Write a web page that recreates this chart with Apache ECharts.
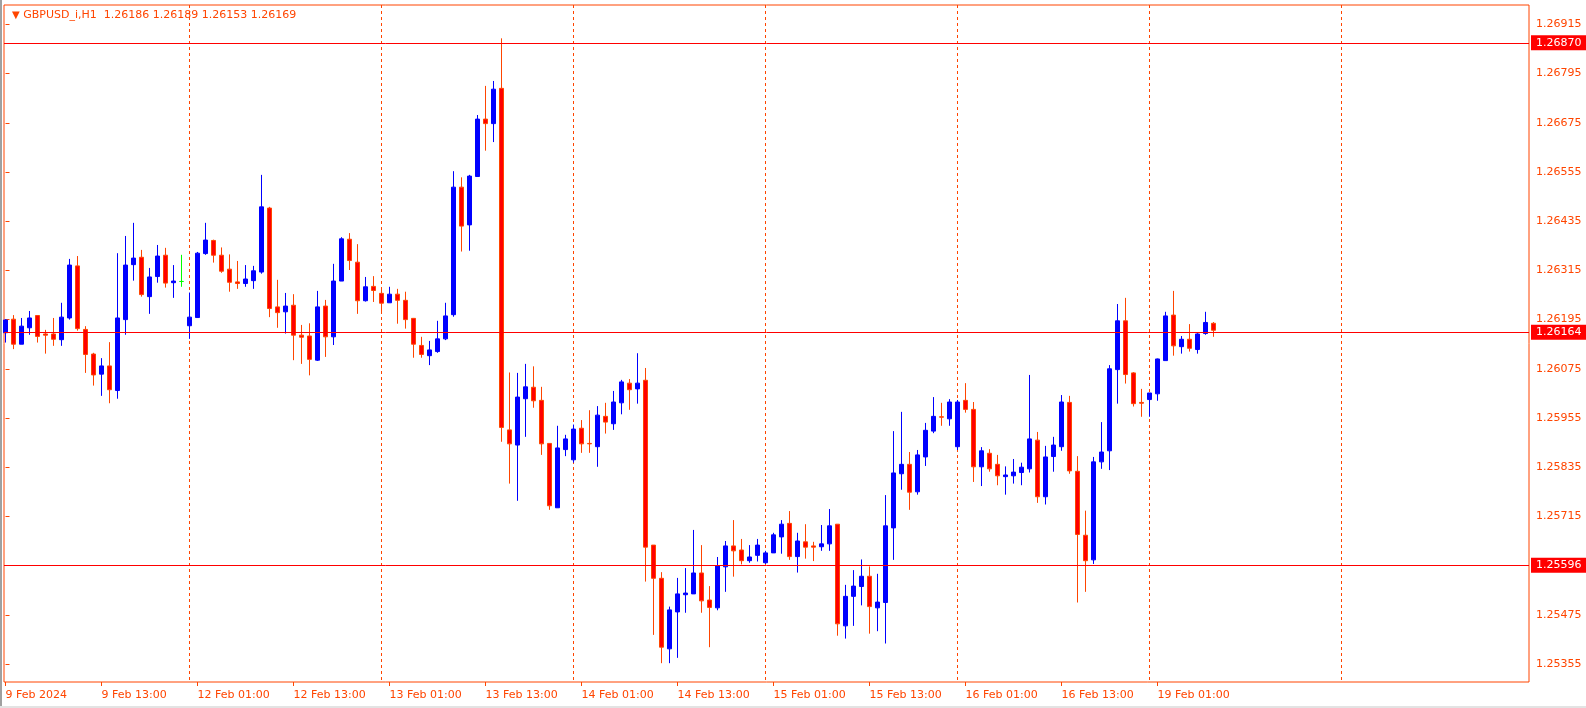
<!DOCTYPE html>
<html><head><meta charset="utf-8">
<script src="https://cdn.jsdelivr.net/npm/echarts@6/dist/echarts.min.js"></script>
<style>html,body{margin:0;padding:0;background:#fff}#c{width:1586px;height:708px}</style>
</head><body><div id="c"></div><script>
// ---- data ----
const symbolName = 'GBPUSD_i,H1';
const tradingDays = ['2024.02.09','2024.02.12','2024.02.13','2024.02.14','2024.02.15','2024.02.16','2024.02.19'];
const open = [1.26163,1.26196,1.26135,1.26175,1.26205,1.26160,1.26160,1.26146,1.26199,1.26326,
1.26171,1.26111,1.26062,1.26082,1.26022,1.26195,1.26329,1.26347,1.26251,1.26300,
1.26352,1.26285,1.26288,1.26180,1.26200,1.26356,1.26388,1.26352,1.26318,1.26287,
1.26283,1.26290,1.26311,1.26467,1.26226,1.26214,1.26230,1.26157,1.26155,1.26096,
1.26228,1.26153,1.26289,1.26391,1.26335,1.26241,1.26276,1.26259,1.26236,1.26257,
1.26242,1.26198,1.26132,1.26107,1.26117,1.26148,1.26207,1.26518,1.26426,1.26544,
1.26684,1.26673,1.26759,1.25926,1.25889,1.26002,1.26030,1.25998,1.25893,1.25736,
1.25878,1.25853,1.25930,1.25893,1.25885,1.25959,1.25941,1.25992,1.26040,1.26026,
1.26047,1.25645,1.25564,1.25392,1.25482,1.25524,1.25526,1.25577,1.25511,1.25492,
1.25592,1.25643,1.25633,1.25607,1.25620,1.25602,1.25626,1.25665,1.25698,1.25617,
1.25653,1.25643,1.25641,1.25648,1.25696,1.25448,1.25520,1.25544,1.25569,1.25492,
1.25505,1.25687,1.25819,1.25842,1.25775,1.25860,1.25923,1.25958,1.25953,1.25885,
1.25998,1.25976,1.25836,1.25869,1.25842,1.25812,1.25814,1.25822,1.25831,1.25901,
1.25763,1.25861,1.25885,1.25993,1.25825,1.25669,1.25609,1.25848,1.25875,1.26073,
1.26192,1.26065,1.25993,1.26000,1.26014,1.26095,1.26206,1.26129,1.26147,1.26122,
1.26161,1.26186];
const high = [1.26196,1.26206,1.26199,1.26216,1.26206,1.26170,1.26199,1.26236,1.26343,1.26350,
1.26179,1.26114,1.26101,1.26140,1.26357,1.26399,1.26431,1.26365,1.26321,1.26377,
1.26370,1.26328,1.26353,1.26261,1.26360,1.26431,1.26390,1.26371,1.26354,1.26338,
1.26328,1.26326,1.26548,1.26470,1.26292,1.26260,1.26257,1.26182,1.26186,1.26265,
1.26243,1.26331,1.26396,1.26406,1.26379,1.26299,1.26301,1.26271,1.26275,1.26270,
1.26263,1.26199,1.26153,1.26143,1.26192,1.26236,1.26557,1.26542,1.26548,1.26694,
1.26765,1.26777,1.26881,1.26066,1.26065,1.26087,1.26081,1.26031,1.25893,1.25936,
1.25914,1.25939,1.25950,1.25974,1.25984,1.25992,1.26021,1.26048,1.26050,1.26113,
1.26077,1.25645,1.25579,1.25495,1.25565,1.25589,1.25682,1.25645,1.25545,1.25616,
1.25655,1.25706,1.25660,1.25645,1.25660,1.25631,1.25675,1.25706,1.25728,1.25675,
1.25696,1.25653,1.25694,1.25733,1.25696,1.25548,1.25584,1.25610,1.25593,1.25575,
1.25767,1.25923,1.25970,1.25872,1.25877,1.25943,1.26006,1.25992,1.26001,1.25999,
1.26040,1.25994,1.25884,1.25879,1.25865,1.25837,1.25855,1.25846,1.26060,1.25921,
1.25887,1.25909,1.26011,1.26009,1.25862,1.25729,1.25860,1.25945,1.26084,1.26233,
1.26248,1.26067,1.26026,1.26016,1.26100,1.26214,1.26265,1.26155,1.26184,1.26162,
1.26214,1.26189];
const low = [1.26139,1.26123,1.26135,1.26158,1.26139,1.26112,1.26131,1.26131,1.26195,1.26168,
1.26065,1.26034,1.26009,1.25991,1.26002,1.26158,1.26290,1.26251,1.26209,1.26285,
1.26273,1.26248,1.26275,1.26148,1.26199,1.26353,1.26334,1.26309,1.26263,1.26270,
1.26275,1.26270,1.26307,1.26201,1.26175,1.26161,1.26096,1.26087,1.26059,1.26094,
1.26104,1.26133,1.26289,1.26316,1.26209,1.26239,1.26238,1.26212,1.26236,1.26185,
1.26173,1.26102,1.26102,1.26084,1.26114,1.26145,1.26202,1.26361,1.26363,1.26544,
1.26607,1.26628,1.25897,1.25795,1.25753,1.25909,1.25980,1.25865,1.25731,1.25736,
1.25862,1.25846,1.25870,1.25870,1.25836,1.25917,1.25926,1.25964,1.25975,1.25990,
1.25556,1.25426,1.25357,1.25357,1.25370,1.25480,1.25526,1.25480,1.25396,1.25486,
1.25531,1.25568,1.25598,1.25602,1.25605,1.25599,1.25626,1.25624,1.25609,1.25578,
1.25612,1.25606,1.25631,1.25631,1.25424,1.25417,1.25448,1.25498,1.25429,1.25435,
1.25405,1.25609,1.25780,1.25731,1.25768,1.25838,1.25918,1.25936,1.25936,1.25877,
1.25968,1.25799,1.25789,1.25824,1.25791,1.25768,1.25795,1.25791,1.25822,1.25748,
1.25744,1.25824,1.25875,1.25819,1.25505,1.25531,1.25599,1.25831,1.25828,1.25990,
1.26039,1.25983,1.25958,1.25958,1.25997,1.26095,1.26107,1.26112,1.26117,1.26112,
1.26158,1.26153];
const close = [1.26194,1.26135,1.26179,1.26199,1.26154,1.26157,1.26147,1.26201,1.26328,1.26173,
1.26110,1.26060,1.26082,1.26024,1.26199,1.26328,1.26345,1.26256,1.26299,1.26350,
1.26284,1.26289,1.26288,1.26201,1.26357,1.26389,1.26352,1.26313,1.26286,1.26283,
1.26294,1.26314,1.26470,1.26222,1.26212,1.26228,1.26157,1.26152,1.26098,1.26226,
1.26153,1.26289,1.26392,1.26339,1.26241,1.26275,1.26266,1.26235,1.26257,1.26242,
1.26195,1.26135,1.26110,1.26121,1.26148,1.26204,1.26518,1.26423,1.26545,1.26684,
1.26673,1.26757,1.25932,1.25892,1.26006,1.26031,1.25997,1.25892,1.25741,1.25882,
1.25904,1.25928,1.25892,1.25892,1.25962,1.25945,1.25994,1.26043,1.26024,1.26040,
1.25640,1.25564,1.25396,1.25487,1.25526,1.25528,1.25577,1.25509,1.25493,1.25594,
1.25643,1.25631,1.25607,1.25616,1.25645,1.25626,1.25670,1.25696,1.25617,1.25655,
1.25640,1.25640,1.25648,1.25692,1.25453,1.25520,1.25545,1.25569,1.25495,1.25506,
1.25692,1.25821,1.25842,1.25774,1.25865,1.25925,1.25959,1.25957,1.25994,1.25994,
1.25976,1.25836,1.25875,1.25831,1.25814,1.25816,1.25823,1.25835,1.25904,1.25763,
1.25860,1.25889,1.25994,1.25826,1.25671,1.25607,1.25848,1.25872,1.26075,1.26192,
1.26061,1.25990,1.25991,1.26016,1.26099,1.26204,1.26131,1.26147,1.26125,1.26160,
1.26188,1.26169];
const priceLevels = [1.26870, 1.26164, 1.25596];
const yTicks = [1.25355,1.25475,1.25595,1.25715,1.25835,1.25955,1.26075,1.26195,1.26315,1.26435,1.26555,1.26675,1.26795,1.26915];
const xTickIdx = [0,12,24,36,48,60,72,84,96,108,120,132,144];
const xTickLabels = ['9 Feb 2024','9 Feb 13:00','12 Feb 01:00','12 Feb 13:00','13 Feb 01:00','13 Feb 13:00','14 Feb 01:00','14 Feb 13:00','15 Feb 01:00','15 Feb 13:00','16 Feb 01:00','16 Feb 13:00','19 Feb 01:00'];
const daySepIdx = [23,47,71,95,119,143,167];

// bar times (category names, used for tooltips only)
const barTimes = [];
tradingDays.forEach((d, k) => {
  for (let h = (k === 0 ? 1 : 0); h < 24 && barTimes.length < open.length; h++) {
    barTimes.push(d + ' ' + String(h).padStart(2, '0') + ':00');
  }
});

// ---- view ----
const FONT = 'DejaVu Sans';
const FG = '#ff4500';
const xMin = -0.1875, xMax = 190.4375;
const yMin = 1.253111, yMax = 1.269623;

const candleData = open.map((o, i) => {
  const item = { name: barTimes[i], value: [i, o, close[i], low[i], high[i]] };
  if (o === close[i]) {
    item.itemStyle = { color: '#00ff00', color0: '#00ff00', borderColor: '#00ff00', borderColor0: '#00ff00' };
  }
  return item;
});
const last = open.length - 1;
const hdr = [open[last], high[last], low[last], close[last]].map(v => v.toFixed(5)).join(' ');

const levelLines = priceLevels.map(v => [
  { coord: [xMin, v], value: v },
  { coord: [xMax, v], value: v }
]);

const chart = echarts.init(document.getElementById('c'), null, { renderer: 'canvas' });
chart.setOption({
  animation: false,
  backgroundColor: '#ffffff',
  textStyle: { fontFamily: FONT },
  title: {
    text: '{t|▼} ' + symbolName + '  ' + hdr,
    left: 7, top: 5,
    textStyle: { fontFamily: FONT, fontSize: 11, fontWeight: 'normal', color: FG,
      rich: { t: { fontSize: 10, color: FG, fontFamily: FONT } } }
  },
  grid: { left: 4, right: 57, top: 5, bottom: 26, show: true, borderColor: FG, borderWidth: 1, backgroundColor: '#fff' },
  xAxis: [{
    type: 'value', min: xMin, max: xMax, position: 'bottom',
    axisLine: { show: false },
    axisTick: { show: true, length: 4, customValues: xTickIdx, lineStyle: { color: FG } },
    axisLabel: { customValues: xTickIdx, color: FG, fontSize: 11, fontFamily: FONT, align: 'left', margin: 8,
      formatter: v => { const k = xTickIdx.indexOf(Math.round(v)); return k >= 0 ? xTickLabels[k] : ''; } },
    splitLine: { show: false }
  }, {
    type: 'value', min: xMin, max: xMax, position: 'top',
    axisLine: { show: false }, axisLabel: { show: false },
    axisTick: { show: false, customValues: daySepIdx },
    splitLine: { show: true, lineStyle: { color: FG, type: [3, 3], width: 1 } }
  }],
  yAxis: {
    type: 'value', position: 'right', min: yMin, max: yMax, scale: true,
    axisLine: { show: false },
    axisTick: { show: true, length: 4, customValues: yTicks, lineStyle: { color: FG } },
    axisLabel: { customValues: yTicks, color: FG, fontSize: 11, fontFamily: FONT, margin: 7,
      formatter: v => v.toFixed(5) },
    splitLine: { show: false }
  },
  series: [{
    type: 'candlestick',
    xAxisIndex: 0, yAxisIndex: 0,
    encode: { x: 0, y: [1, 2, 3, 4] },
    barWidth: 4,
    itemStyle: { color: '#0000ff', borderColor: '#0000ff', color0: '#ff0000', borderColor0: FG, borderWidth: 1 },
    data: candleData
  }, {
    type: 'line',
    xAxisIndex: 0, yAxisIndex: 0,
    data: [],
    clip: false,
    z: 5,
    markLine: {
      silent: true, animation: false, symbol: ['none', 'none'],
      lineStyle: { color: '#ff0000', width: 1, type: 'solid' },
      label: { show: true, position: 'end', distance: 2,
        formatter: p => Number(p.value).toFixed(5),
        backgroundColor: '#ff0000', color: '#ffffff', fontSize: 11, fontFamily: FONT,
        lineHeight: 12, padding: [2, 6, 1, 5] },
      data: levelLines
    }
  }],
  graphic: [
    { type: 'rect', left: 0, top: 0, shape: { width: 2, height: 708 }, style: { fill: '#a0a0a0' }, silent: true },
    { type: 'rect', left: 0, top: 706, shape: { width: 1586, height: 2 }, style: { fill: '#e3e3e3' }, silent: true }
  ]
});
</script></body></html>
